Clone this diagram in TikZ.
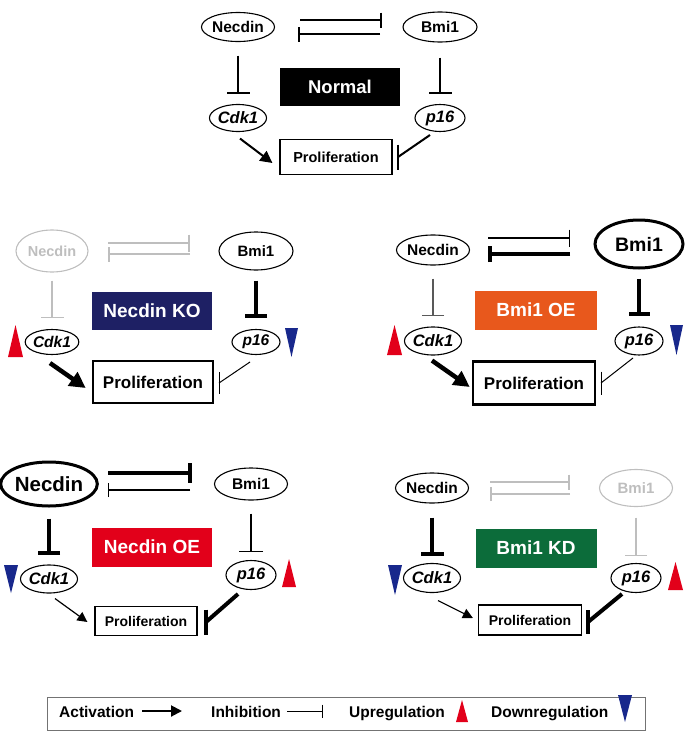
\documentclass[tikz,border=0pt]{standalone}
\usepackage{fontspec}
\setmainfont{Liberation Sans}
\usetikzlibrary{shapes.geometric,arrows.meta,calc}
\definecolor{kobl}{RGB}{30,32,100}
\definecolor{oeor}{RGB}{232,88,28}
\definecolor{oered}{RGB}{226,0,26}
\definecolor{kdgr}{RGB}{12,108,58}
\definecolor{upred}{RGB}{226,0,26}
\definecolor{dnbl}{RGB}{24,40,140}
\definecolor{lgray}{RGB}{190,190,190}
\newcommand{\dinh}[4]{\draw[#1] (#2) -- (#3); \draw[#1] ($(#3)+(0,-#4)$) -- ($(#3)+(0,#4)$);}
\tikzset{
  gene/.style={ellipse,draw,line width=1.1pt,inner sep=0pt},
  fs/.style={font=\bfseries\fontsize{#1}{#1}\selectfont},
  itf/.style={font=\bfseries\itshape\fontsize{#1}{#1}\selectfont},
  prolbox/.style={rectangle,draw,inner sep=0pt,line width=1.2pt},
  lab/.style={rectangle,fill=#1,text=white,inner sep=0pt},
  inhb/.style={-{Bar[width=#1]}},
  act/.style={-{Triangle[length=#1,width=#1]}},
}
\begin{document}
\begin{tikzpicture}[x=1pt,y=-1pt]
\useasboundingbox (0,0) rectangle (689,736);

% ---------------- Normal ----------------
\node[gene,fs=15.5,minimum width=73pt,minimum height=29pt] (nec1) at (238,27) {Necdin};
\node[gene,fs=15.5,minimum width=74pt,minimum height=30pt] (bmi1) at (440,27) {Bmi1};
\node[gene,itf=16.5,minimum width=51pt,minimum height=27pt] (cdk1) at (238,118) {Cdk1};
\node[gene,itf=16.5,minimum width=50pt,minimum height=27pt] (p161) at (440,118) {p16};
\node[lab=black,fs=18.5,minimum width=120pt,minimum height=38pt] (l1) at (340,87) {Normal};
\node[prolbox,fs=14.5,minimum width=112pt,minimum height=35pt] (pr1) at (336,157) {Proliferation};
\draw[line width=2pt,inhb=23pt,shorten <=13.5pt,shorten >=9.5pt] (nec1.south) -- (cdk1.north);
\draw[line width=2pt,inhb=23pt,shorten <=15pt,shorten >=9.5pt] (bmi1.south) -- (p161.north);
\coordinate (u1a) at (300,20); \coordinate (u1b) at (382,20);
\coordinate (d1a) at (380,34); \coordinate (d1b) at (298,34);
\draw[line width=2pt,inhb=15pt] (u1a) -- (u1b);
\draw[line width=2pt,inhb=15pt] (d1a) -- (d1b);
\draw[line width=2pt,act=12pt] ($(cdk1.south)+(2,6.5)$) -- ($(pr1.west)+(-7,6)$);
\coordinate (i1a) at (430,135); \coordinate (i1b) at (398,157);
\dinh{line width=2pt}{i1a}{i1b}{12.5}

% ---------------- Necdin KO ----------------
\node[gene,draw=lgray,text=lgray,fs=14.5,minimum width=72pt,minimum height=42pt] (nec2) at (52,251) {Necdin};
\node[gene,fs=15,minimum width=74pt,minimum height=38pt] (bmi2) at (256,251) {Bmi1};
\node[gene,itf=15.5,minimum width=49pt,minimum height=25pt] (cdk2) at (52,342) {Cdk1};
\node[gene,itf=15.5,minimum width=48pt,minimum height=25pt] (p162) at (256,342) {p16};
\node[lab=kobl,fs=19,minimum width=120pt,minimum height=38pt] (l2) at (152,311) {Necdin KO};
\node[prolbox,line width=2.5pt,fs=17,minimum width=120pt,minimum height=42pt] (pr2) at (153,382) {Proliferation};
\draw[lgray,line width=1.6pt,inhb=23pt,shorten <=8pt,shorten >=10.5pt] (nec2.south) -- (cdk2.north);
\draw[line width=4pt,inhb=22pt,shorten <=10pt,shorten >=10.5pt] (bmi2.south) -- (p162.north);
\coordinate (u2a) at (108,243); \coordinate (u2b) at (190,243);
\coordinate (d2a) at (190,254); \coordinate (d2b) at (108,254);
\draw[lgray,line width=1.7pt,inhb=17pt] (u2a) -- (u2b);
\draw[lgray,line width=1.7pt,inhb=15pt] (d2a) -- (d2b);
\draw[line width=4.5pt,act=16pt] ($(cdk2.south)+(-2,8)$) -- ($(pr2.west)+(-6,6)$);
\coordinate (i2a) at (250,362); \coordinate (i2b) at (219,383);
\dinh{line width=1pt}{i2a}{i2b}{11}
\fill[upred] (8,357) -- (23,357) -- (15.5,325) -- cycle;
\fill[dnbl] (285,328) -- (298,328) -- (291.5,357) -- cycle;

% ---------------- Bmi1 OE ----------------
\node[gene,fs=15.5,minimum width=73pt,minimum height=30pt] (nec3) at (433,250) {Necdin};
\node[gene,line width=3pt,fs=19.5,minimum width=88pt,minimum height=48pt] (bmi3) at (639,244) {Bmi1};
\node[gene,itf=16.5,minimum width=52pt,minimum height=28pt] (cdk3) at (433,341) {Cdk1};
\node[gene,itf=16.5,minimum width=48pt,minimum height=28pt] (p163) at (639,341) {p16};
\node[lab=oeor,fs=19,minimum width=122pt,minimum height=39pt] (l3) at (536,310) {Bmi1 OE};
\node[prolbox,line width=2.5pt,fs=17,minimum width=122pt,minimum height=43pt] (pr3) at (534,383) {Proliferation};
\draw[black!65,line width=1.2pt,inhb=22pt,shorten <=13pt,shorten >=10pt] (nec3.south) -- (cdk3.north);
\draw[line width=4pt,inhb=21pt,shorten <=9pt,shorten >=10pt] (bmi3.south) -- (p163.north);
\coordinate (u3a) at (488,238); \coordinate (u3b) at (570,238);
\coordinate (d3a) at (570,254); \coordinate (d3b) at (488,254);
\draw[line width=1.2pt,inhb=17pt] (u3a) -- (u3b);
\draw[line width=4pt,inhb=16pt] (d3a) -- (d3b);
\draw[line width=4.5pt,act=16pt] ($(cdk3.south)+(-1,5)$) -- ($(pr3.west)+(-2,4)$);
\coordinate (i3a) at (633,358); \coordinate (i3b) at (601,383);
\dinh{line width=1pt}{i3a}{i3b}{11.5}
\fill[upred] (387,355) -- (402,355) -- (394.5,325) -- cycle;
\fill[dnbl] (670,325) -- (683,325) -- (676.5,355) -- cycle;

% ---------------- Necdin OE ----------------
\node[gene,line width=3pt,fs=20.5,minimum width=88pt,minimum height=44pt] (nec4) at (49,484) {Necdin};
\node[gene,fs=15.5,minimum width=73pt,minimum height=32pt] (bmi4) at (251,484) {Bmi1};
\node[gene,itf=16.5,minimum width=51pt,minimum height=28pt] (cdk4) at (49,579) {Cdk1};
\node[gene,itf=16.5,minimum width=50pt,minimum height=29pt] (p164) at (251,575) {p16};
\node[lab=oered,fs=19,minimum width=120pt,minimum height=39pt] (l4) at (152,547) {Necdin OE};
\node[prolbox,fs=14,minimum width=102pt,minimum height=29pt] (pr4) at (146,621) {Proliferation};
\draw[line width=4pt,inhb=22pt,shorten <=11pt,shorten >=9pt] (nec4.south) -- (cdk4.north);
\draw[line width=1.2pt,inhb=24pt,shorten <=13pt,shorten >=7.5pt] (bmi4.south) -- (p164.north);
\coordinate (u4a) at (108,473); \coordinate (u4b) at (192,473);
\coordinate (d4a) at (190,490); \coordinate (d4b) at (108,490);
\draw[line width=4pt,inhb=20pt] (u4a) -- (u4b);
\draw[line width=1.2pt,inhb=14pt] (d4a) -- (d4b);
\draw[line width=1.2pt,act=10pt] ($(cdk4.south)+(6,5)$) -- ($(pr4.west)+(-7,1)$);
\coordinate (i4a) at (238,594); \coordinate (i4b) at (206,622);
\dinh{line width=4pt}{i4a}{i4b}{12.5}
\fill[dnbl] (4,565) -- (18,565) -- (11,593) -- cycle;
\fill[upred] (282,587) -- (296,587) -- (289,559) -- cycle;

% ---------------- Bmi1 KD ----------------
\node[gene,fs=15.5,minimum width=73pt,minimum height=30pt] (nec5) at (432,488) {Necdin};
\node[gene,draw=lgray,text=lgray,fs=15,minimum width=73pt,minimum height=37pt] (bmi5) at (636,488) {Bmi1};
\node[gene,itf=16.5,minimum width=50pt,minimum height=29pt] (cdk5) at (432,578) {Cdk1};
\node[gene,itf=16.5,minimum width=50pt,minimum height=29pt] (p165) at (636,578) {p16};
\node[lab=kdgr,fs=19,minimum width=121pt,minimum height=39pt] (l5) at (536,548) {Bmi1 KD};
\node[prolbox,fs=14,minimum width=103pt,minimum height=30pt] (pr5) at (530,620) {Proliferation};
\draw[line width=4pt,inhb=23pt,shorten <=14pt,shorten >=6.5pt] (nec5.south) -- (cdk5.north);
\draw[lgray,line width=1.6pt,inhb=22pt,shorten <=10.5pt,shorten >=6.5pt] (bmi5.south) -- (p165.north);
\coordinate (u5a) at (490,482); \coordinate (u5b) at (570,482);
\coordinate (d5a) at (570,494); \coordinate (d5b) at (490,494);
\draw[lgray,line width=1.7pt,inhb=15pt] (u5a) -- (u5b);
\draw[lgray,line width=1.7pt,inhb=14pt] (d5a) -- (d5b);
\draw[line width=1.2pt,act=10pt] ($(cdk5.south)+(6,7.5)$) -- ($(pr5.west)+(-5,-2)$);
\coordinate (i5a) at (622,594); \coordinate (i5b) at (588,622);
\dinh{line width=4pt}{i5a}{i5b}{12}
\fill[dnbl] (388,565) -- (402,565) -- (395,595) -- cycle;
\fill[upred] (668,590) -- (683,590) -- (675.5,562) -- cycle;

% ---------------- Legend ----------------
\node[draw=black!55,line width=1pt,minimum width=598pt,minimum height=33pt,inner sep=0pt] (leg) at (346,713.5) {};
\node[fs=15.5,anchor=base west,inner sep=0pt] (tact) at (59,717) {Activation};
\coordinate (la1) at (142,711); \coordinate (la2) at (182,711);
\draw[line width=2pt,act=11pt] (la1) -- (la2);
\node[fs=15.5,anchor=base west,inner sep=0pt] (tinh) at (211,717) {Inhibition};
\coordinate (li1) at (287,711); \coordinate (li2) at (323,711);
\draw[line width=1pt,inhb=13pt] (li1) -- (li2);
\node[fs=15.5,anchor=base west,inner sep=0pt] (tup) at (349,717) {Upregulation};
\fill[upred] (456,722) -- (468,722) -- (462,700) -- cycle;
\node[fs=15.5,anchor=base west,inner sep=0pt] (tdn) at (491,717) {Downregulation};
\fill[dnbl] (618,695) -- (632,695) -- (625,722) -- cycle;
\end{tikzpicture}
\end{document}
